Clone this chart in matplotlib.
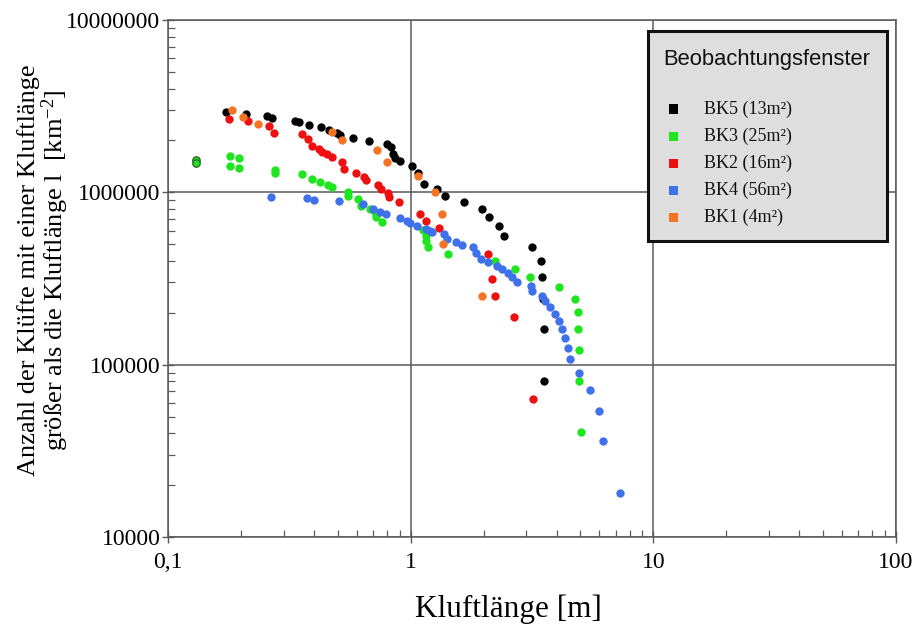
import matplotlib
matplotlib.use("Agg")
import matplotlib.pyplot as plt
from matplotlib.ticker import FixedLocator, FixedFormatter, LogLocator, NullFormatter
from matplotlib.patches import Rectangle

# ---------------- data ----------------
bk5_x = [0.173, 0.209, 0.255, 0.267, 0.333, 0.347, 0.382, 0.429, 0.461, 0.495, 0.510, 0.576,
         0.672, 0.799, 0.833, 0.846, 0.859, 0.901, 1.016, 1.072, 1.131, 1.288, 1.384, 1.663,
         1.960, 2.094, 2.302, 2.421, 3.177, 3.437, 3.483, 3.503, 3.527, 3.537]
bk5_y = [2.93e6, 2.85e6, 2.78e6, 2.69e6, 2.61e6, 2.55e6, 2.46e6, 2.38e6, 2.30e6, 2.22e6, 2.15e6, 2.06e6,
         1.98e6, 1.91e6, 1.83e6, 1.67e6, 1.58e6, 1.51e6, 1.43e6, 1.29e6, 1.12e6, 1.04e6, 9.54e5, 8.81e5,
         7.99e5, 7.18e5, 6.42e5, 5.60e5, 4.81e5, 4.01e5, 3.22e5, 2.41e5, 1.62e5, 8.08e4]

bk3_x = [0.180, 0.196, 0.180, 0.196, 0.277, 0.277, 0.358, 0.391, 0.425, 0.457, 0.474, 0.554,
         0.554, 0.604, 0.623, 0.683, 0.711, 0.718, 0.765, 1.124, 1.153, 1.160, 1.175, 1.424,
         2.216, 2.679, 3.117, 4.104, 4.775, 4.913, 4.913, 4.920, 4.960, 5.021]
bk3_y = [1.63e6, 1.585e6, 1.42e6, 1.39e6, 1.35e6, 1.30e6, 1.27e6, 1.19e6, 1.15e6, 1.11e6, 1.07e6, 1.007e6,
         9.54e5, 9.17e5, 8.35e5, 7.99e5, 7.64e5, 7.18e5, 6.77e5, 6.01e5, 5.60e5, 5.19e5, 4.79e5, 4.40e5,
         4.01e5, 3.60e5, 3.22e5, 2.82e5, 2.41e5, 2.01e5, 1.61e5, 1.21e5, 8.08e4, 4.07e4]
bk3_outlined_x = [0.130, 0.130]
bk3_outlined_y = [1.543e6, 1.477e6]

bk2_x = [0.178, 0.214, 0.260, 0.273, 0.355, 0.379, 0.391, 0.418, 0.432, 0.450, 0.473, 0.520,
         0.532, 0.594, 0.641, 0.653, 0.733, 0.758, 0.807, 0.814, 0.893, 1.096, 1.160, 1.307,
         2.084, 2.169, 2.216, 2.671, 3.207]
bk2_y = [2.66e6, 2.59e6, 2.41e6, 2.22e6, 2.18e6, 2.03e6, 1.86e6, 1.78e6, 1.72e6, 1.67e6, 1.61e6, 1.49e6,
         1.36e6, 1.30e6, 1.23e6, 1.18e6, 1.105e6, 1.05e6, 9.97e5, 9.38e5, 8.73e5, 7.50e5, 6.86e5, 6.23e5,
         4.38e5, 3.14e5, 2.51e5, 1.89e5, 6.33e4]

bk4_x = [0.2654, 0.3757, 0.3989, 0.5069, 0.6364, 0.6994, 0.7504, 0.7943, 0.9010, 0.9656, 0.9906, 1.061,
         1.160, 1.197, 1.223, 1.371, 1.413, 1.542, 1.632, 1.808, 1.857, 1.941, 2.080, 2.270,
         2.384, 2.514, 2.611, 2.738, 3.126, 3.155, 3.483, 3.583, 3.743, 3.925, 4.104, 4.190,
         4.315, 4.440, 4.543, 4.947, 5.505, 5.995, 6.209, 7.313]
bk4_y = [9.38e5, 9.21e5, 9.01e5, 8.85e5, 8.54e5, 7.99e5, 7.74e5, 7.47e5, 7.08e5, 6.86e5, 6.68e5, 6.39e5,
         6.12e5, 5.93e5, 5.85e5, 5.72e5, 5.35e5, 5.14e5, 4.96e5, 4.81e5, 4.46e5, 4.10e5, 3.92e5, 3.75e5,
         3.57e5, 3.40e5, 3.22e5, 3.03e5, 2.87e5, 2.66e5, 2.50e5, 2.33e5, 2.15e5, 1.976e5, 1.799e5, 1.621e5,
         1.428e5, 1.250e5, 1.073e5, 8.95e4, 7.16e4, 5.36e4, 3.59e4, 1.80e4]

bk1_x = [0.183, 0.203, 0.234, 0.474, 0.519, 0.727, 0.802, 1.072, 1.255, 1.345, 1.363, 1.960]
bk1_y = [3.0e6, 2.75e6, 2.5e6, 2.25e6, 2.0e6, 1.75e6, 1.5e6, 1.25e6, 1.0e6, 7.5e5, 5.0e5, 2.5e5]

series_labels = ["BK5 (13m²)", "BK3 (25m²)", "BK2 (16m²)", "BK4 (56m²)", "BK1 (4m²)"]
series_colors = ["#000000", "#1ee51e", "#ee1010", "#3f72ea", "#f47424"]

x_ticks = [0.1, 1, 10, 100]
x_tick_labels = ["0,1", "1", "10", "100"]
y_ticks = [1e4, 1e5, 1e6, 1e7]
y_tick_labels = ["10000", "100000", "1000000", "10000000"]

legend_title = "Beobachtungsfenster"
x_label = "Kluftlänge [m]"
y_label = "Anzahl der Klüfte mit einer Kluftlänge\ngrößer als die Kluftlänge l  [km$^{\\mathregular{-2}}$]"

# ---------------- style ----------------
plt.rcParams["mathtext.fontset"] = "custom"
plt.rcParams["mathtext.rm"] = "Liberation Serif"
plt.rcParams["mathtext.it"] = "Liberation Serif:italic"
plt.rcParams["font.family"] = ["Liberation Serif", "DejaVu Serif"]

W, H = 917, 626
fig = plt.figure(figsize=(W / 100, H / 100), dpi=100)
L, R, T, B = 168, 896, 20, 537
ax = fig.add_axes([L / W, 1 - B / H, (R - L) / W, (B - T) / H])
ax.set_xscale("log")
ax.set_yscale("log")
ax.set_xlim(0.1, 100)
ax.set_ylim(1e4, 1e7)

gridc = "#5a5a5a"
for s in ax.spines.values():
    s.set_color(gridc)
    s.set_linewidth(1.1)

ax.grid(True, which="major", color=gridc, linewidth=1.1)
ax.set_axisbelow(True)

ax.xaxis.set_major_locator(FixedLocator(x_ticks))
ax.xaxis.set_major_formatter(FixedFormatter(x_tick_labels))
ax.yaxis.set_major_locator(FixedLocator(y_ticks))
ax.yaxis.set_major_formatter(FixedFormatter(y_tick_labels))
ax.xaxis.set_minor_locator(LogLocator(base=10, subs=range(2, 10)))
ax.yaxis.set_minor_locator(LogLocator(base=10, subs=range(2, 10)))
ax.xaxis.set_minor_formatter(NullFormatter())
ax.yaxis.set_minor_formatter(NullFormatter())
ax.tick_params(which="major", direction="inout", length=9, width=1.0, color=gridc,
               labelsize=17, top=False, right=False)
ax.tick_params(which="minor", direction="in", length=5, width=0.9, color=gridc,
               top=False, right=False)
ax.tick_params(axis="x", which="major", pad=6)
ax.tick_params(axis="y", which="major", pad=1)

ms = 36
ax.scatter(bk5_x, bk5_y, s=ms, color=series_colors[0], linewidths=0, zorder=3)
ax.scatter(bk3_x, bk3_y, s=ms, color=series_colors[1], linewidths=0, zorder=3)
ax.scatter(bk3_outlined_x, bk3_outlined_y, s=28, color=series_colors[1],
           edgecolors="#2c6a2c", linewidths=1.0, zorder=3)
ax.scatter(bk2_x, bk2_y, s=ms, color=series_colors[2], linewidths=0, zorder=3)
ax.scatter(bk4_x, bk4_y, s=ms, color=series_colors[3], linewidths=0, zorder=3)
ax.scatter(bk1_x, bk1_y, s=ms, color=series_colors[4], linewidths=0, zorder=3)

ax.set_xlabel(x_label, fontsize=22.5)
ax.xaxis.set_label_coords((508 - L) / (R - L), -(595 - B) / (B - T))
ax.set_ylabel(y_label, fontsize=19, linespacing=0.98)
ax.yaxis.set_label_coords(-(168 - 71) / (R - L), (B - 270) / (B - T))

# ---------------- legend box ----------------
def fx(px):
    return px / W

def fy(py):
    return 1 - py / H

box = Rectangle((fx(647.5), fy(240.5)), fx(886.5) - fx(647.5), fy(30.5) - fy(240.5),
                transform=fig.transFigure, facecolor="#dedede", edgecolor="#111111",
                linewidth=2.2, zorder=10)
fig.patches.append(box)
fig.text(fx(767), fy(59), legend_title, ha="center", va="center", fontsize=15.8,
         family=["Liberation Sans", "DejaVu Sans"], color="#111111", zorder=11)
entry_y = [109, 136, 163, 190, 217]
for lab, col, py in zip(series_labels, series_colors, entry_y):
    fig.patches.append(Rectangle((fx(668.5), fy(py + 4.5)), 9 / W, 9 / H, transform=fig.transFigure,
                                 facecolor=col, edgecolor="none", zorder=11))
    fig.text(fx(704), fy(py), lab, ha="left", va="center", fontsize=13,
             family=["Liberation Serif", "DejaVu Serif"], color="#111111", zorder=11)

fig.savefig("out.png", dpi=100)
